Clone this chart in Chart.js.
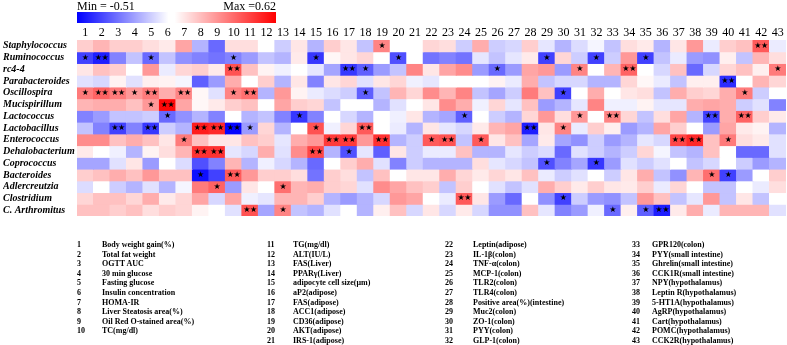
<!DOCTYPE html>
<html>
<head>
<meta charset="utf-8">
<script src="https://cdn.jsdelivr.net/npm/chart.js@4"></script>
<style>
  body { margin: 0; background: #fff; }
  #wrap { position: relative; width: 787px; height: 345px; overflow: hidden; font-family: "Liberation Serif", serif; color: #000; }
  #chart { position: absolute; left: 0; top: 0; }
  .cb-label { position: absolute; top: 0; font-size: 12px; line-height: 12px; white-space: nowrap; }
  #colorbar { position: absolute; left: 77px; top: 12px; width: 199px; height: 11px;
    background: linear-gradient(to right, #0000ff 0%, #ffffff 46%, #ffffff 49%, #ff0000 100%); }
  .legcol { position: absolute; top: 240px; font-size: 8px; font-weight: bold; line-height: 9.6px; white-space: nowrap; }
  .legcol div { position: relative; height: 9.6px; }
  .legcol .n { position: absolute; left: 0; }
</style>
</head>
<body>
<div id="wrap">
  <canvas id="chart" width="787" height="345"></canvas>
  <div class="cb-label" style="left:77px">Min = -0.51</div>
  <div class="cb-label" style="right:511px">Max =0.62</div>
  <div id="colorbar"></div>
  <div id="legend"></div>
</div>
<script>
const bacteria = ["Staphylococcus", "Ruminococcus", "rc4-4", "Parabacteroides", "Oscillospira",
  "Mucispirillum", "Lactococcus", "Lactobacillus", "Enterococcus", "Dehalobacterium",
  "Coprococcus", "Bacteroides", "Adlercreutzia", "Clostridium", "C. Arthromitus"];

const params = ["Body weight gain(%)", "Total fat weight", "OGTT AUC", "30 min glucose", "Fasting glucose",
  "Insulin concentration", "HOMA-IR", "Liver Steatosis area(%)", "Oil Red O-stained area(%)", "TC(mg/dl)",
  "TG(mg/dl)", "ALT(IU/L)", "FAS(Liver)", "PPARγ(Liver)", "adipocyte cell size(μm)", "aP2(adipose)",
  "FAS(adipose)", "ACC1(adipose)", "CD36(adipose)", "AKT(adipose)", "IRS-1(adipose)",
  "Leptin(adipose)", "IL-1β(colon)", "TNF-α(colon)", "MCP-1(colon)", "TLR2(colon)", "TLR4(colon)",
  "Positive area(%)(intestine)", "Muc2(colon)", "ZO-1(colon)", "PYY(colon)", "GLP-1(colon)",
  "GPR120(colon)", "PYY(small intestine)", "Ghrelin(small intestine)", "CCK1R(small intestine)",
  "NPY(hypothalamus)", "Leptin R(hypothalamus)", "5-HT1A(hypothalamus)", "AgRP(hypothalamus)",
  "Cart(hypothalamus)", "POMC(hypothalamus)", "CCK2R(hypothalamus)"];

const colLabels = params.map((_, i) => String(i + 1));
const legendCols = [[1, 10], [11, 21], [22, 32], [33, 43]];

const minVal = -0.51;
const maxVal = 0.62;

// correlation values, one row per bacterium, columns 1..43
const corr = [
  [0.12,0.18,0.12,0.12,0.08,0.05,0.22,-0.15,-0.3,0.08,0.08,0, -0.1,0.06,-0.15,0.12,0.06,-0.12,0.3,0,0,0.1,0.08,-0.1,0.2,-0.1,-0.08, 0.12,-0.05,-0.15,-0.07,-0.02,-0.12,0.08,0.05,-0.15,0.06,0.25,-0.04,0.12,0.15,0.4,-0.04],
  [-0.38,-0.45,-0.25,-0.12,-0.3,-0.12,-0.22,-0.25,-0.28,-0.25,-0.2,-0.12, -0.15,0.05,-0.4,0.02,0.06,0.1,0,-0.35,0,-0.28,-0.25,-0.28,-0.05,-0.12,-0.05, 0.05,-0.38,0.1,-0.1,-0.38,-0.1,0.25,-0.38,-0.12,-0.04,-0.2,-0.22,0.04,-0.12,0.18,0.08],
  [0.06,0.15,0.12,0,0.25,-0.04,0.1,0.12,0.05,0.42,0.15,0.03, -0.03,0,-0.05,-0.18,-0.4,-0.32,-0.2,-0.12,0.3,0.06,0.22,0.28,-0.2,-0.3,-0.2, 0.22,0.25,-0.2,0.3,0,0.18,0.38,0,-0.08,0.15,-0.3,-0.08,0.1,0.15,0.04,0.32],
  [-0.06,-0.08,0.03,-0.06,0.04,0.03,-0.02,-0.32,-0.2,0.2,0,0.12, -0.15,0.06,-0.25,0.06,0.1,-0.06,0.06,0.1,-0.03,-0.05,0,0,0,0.03,-0.04, 0.2,-0.12,-0.08,-0.08,-0.15,-0.15,0.1,0.02,-0.04,-0.12,0.04,0.04,-0.42,0,0.18,0.1],
  [0.32,0.38,0.32,0.25,0.32,0.2,0.3,0.02,-0.06,0.3,0.35,-0.15, 0.25,0.03,-0.04,-0.07,-0.1,-0.32,-0.12,0.18,0.1,0.28,0.18,0.3,-0.12,-0.18,-0.1, 0.32,0.15,-0.38,0,0.2,0,0.06,0.08,-0.12,0.2,0.12,0.1,0.2,0.32,-0.1,0],
  [0.18,0.2,0.2,0.15,0.25,0.6,0.22,0.02,0.05,0.12,0.15,0, 0.22,0.12,0.1,-0.12,0,0,-0.15,-0.06,0,0.06,0.28,0.2,-0.03,0.1,-0.05, 0.15,-0.2,-0.15,-0.05,0.3,-0.03,-0.03,0.03,-0.05,-0.05,0.2,0.22,0.2,-0.1,-0.06,-0.25],
  [-0.25,-0.2,-0.12,-0.12,-0.1,-0.3,-0.22,-0.15,-0.25,0,-0.15,-0.12, -0.25,-0.4,-0.25,0,-0.08,-0.15,0,-0.03,0.06,-0.15,-0.18,-0.32,0,-0.1,-0.15, 0.1,0.25,0.08,0.25,0,0.3,0.1,-0.12,0.08,0.22,-0.15,-0.38,0.2,0.38,0.12,0.05],
  [-0.12,-0.25,-0.38,-0.25,-0.4,-0.1,-0.15,0.55,0.52,-0.5,-0.2,0.1, -0.15,0,0.42,-0.03,0.1,0.4,0,-0.04,-0.15,0.06,-0.05,-0.08,0.05,0.18,0.22, -0.45,0.06,0.3,-0.04,0.12,0.04,-0.2,-0.15,0.22,0.12,0,-0.2,0.22,0.05,0.03,-0.15],
  [0.28,0.28,0.15,0.2,0.15,0.06,0.32,0.15,0.06,0.06,0.15,0.12, -0.05,0.2,0.25,0.48,0.48,0.25,0.5,-0.15,-0.1,0.4,0.42,-0.12,0.4,0.06,0.15, -0.18,0.05,-0.18,-0.22,-0.1,-0.2,-0.15,-0.05,-0.08,0.45,0.52,0.15,0.32,0.08,0.05,-0.06],
  [0.05,0,-0.03,-0.15,0.03,0.08,0.18,0.5,0.5,-0.05,-0.08,0.2, -0.06,0.28,0.45,-0.15,-0.35,-0.05,-0.32,0.06,-0.1,-0.04,-0.04,0.15,-0.15,-0.15,-0.05, -0.1,-0.07,-0.3,-0.06,-0.1,-0.15,-0.1,0.1,-0.02,-0.12,-0.15,0.15,0,-0.3,-0.3,-0.06],
  [-0.18,-0.18,-0.06,0.06,-0.2,0,-0.07,-0.35,-0.25,0.18,-0.15,-0.03, -0.08,-0.15,-0.3,0,0.12,0.2,-0.06,-0.25,-0.1,-0.15,-0.15,-0.15,0.08,-0.05,-0.08, -0.12,-0.35,-0.25,-0.18,-0.4,-0.2,-0.06,-0.1,-0.06,0,-0.12,-0.08,0,-0.1,-0.2,-0.15],
  [0.12,0.15,0.2,0.15,0.25,0.15,0.15,-0.48,-0.38,0.4,0.25,0.12, 0.12,0.08,-0.28,0.12,0.08,-0.12,0.15,0,0.06,0.06,0.2,0.1,0.05,0.1,0.06, 0.15,-0.04,-0.1,-0.06,0,-0.1,0.06,0.2,-0.12,-0.22,0.18,0.35,-0.38,-0.2,0,0.12],
  [-0.07,0,-0.1,-0.15,-0.06,-0.15,-0.02,0.32,0.38,-0.2,0.06,0, 0.35,0.18,0.2,0.12,0.1,-0.06,0.28,0.22,0.15,0.12,-0.12,0.12,0,-0.06,-0.12, -0.06,0.2,0.12,0.05,0.12,0.06,0.05,0.12,-0.04,0.1,0,-0.12,-0.12,0,-0.04,0.08],
  [0.1,0.15,0.15,0.1,0.2,0.05,0.1,0.22,-0.08,0.22,-0.03,-0.05, 0.18,0.18,0.12,-0.15,-0.2,-0.15,-0.08,0.25,0.22,0,-0.04,0.4,0.06,-0.2,-0.3, 0,-0.22,-0.38,-0.1,-0.2,-0.22,-0.12,0.25,0.15,-0.12,-0.05,0.25,-0.12,0.06,-0.12,0],
  [0.15,0.15,0.12,0.15,0.08,0.12,0.1,0.03,0,-0.06,0.42,-0.18, 0.3,-0.12,-0.15,-0.06,0,-0.15,0.04,0.15,-0.08,0.06,-0.08,0.05,-0.08,-0.22,-0.22, 0.15,-0.05,-0.25,-0.2,-0.03,-0.3,0.04,-0.32,-0.45,0.05,0.2,-0.04,0.18,0.18,0.18,-0.06]
];

// significance marks: [row (1-based), column (1-based), mark]
const signif = [
  [1,19,"*"],[1,42,"**"],
  [2,1,"*"],[2,2,"**"],[2,5,"*"],[2,10,"*"],[2,15,"*"],[2,20,"*"],[2,29,"*"],[2,32,"*"],[2,35,"*"],
  [3,10,"**"],[3,17,"**"],[3,18,"*"],[3,26,"*"],[3,31,"*"],[3,34,"**"],[3,43,"*"],
  [4,40,"**"],
  [5,1,"*"],[5,2,"**"],[5,3,"**"],[5,4,"*"],[5,5,"**"],[5,7,"**"],[5,10,"*"],[5,11,"**"],[5,18,"*"],[5,30,"*"],[5,41,"*"],
  [6,5,"*"],[6,6,"**"],
  [7,6,"*"],[7,14,"*"],[7,24,"*"],[7,31,"*"],[7,33,"**"],[7,39,"**"],[7,41,"**"],
  [8,3,"**"],[8,5,"**"],[8,8,"**"],[8,9,"**"],[8,10,"**"],[8,11,"*"],[8,15,"*"],[8,18,"**"],[8,28,"**"],[8,30,"*"],
  [9,7,"*"],[9,16,"**"],[9,17,"**"],[9,19,"**"],[9,22,"*"],[9,23,"**"],[9,25,"*"],[9,37,"**"],[9,38,"**"],[9,40,"*"],
  [10,8,"**"],[10,9,"**"],[10,15,"**"],[10,17,"*"],
  [11,29,"*"],[11,32,"*"],
  [12,8,"*"],[12,10,"**"],[12,39,"*"],[12,40,"*"],
  [13,9,"*"],[13,13,"*"],
  [14,24,"**"],[14,30,"*"],
  [15,11,"**"],[15,13,"*"],[15,33,"*"],[15,35,"*"],[15,36,"**"]
];

function heatColor(v) {
  if (v >= 0) {
    const t = Math.min(v / maxVal, 1);
    const c = Math.round(255 * (1 - t));
    return `rgb(255,${c},${c})`;
  }
  const t = Math.min(v / minVal, 1);
  const c = Math.round(255 * (1 - t));
  return `rgb(${c},${c},255)`;
}

// legend of parameter numbers
const legend = document.getElementById("legend");
const colPos = [[77, 102], [267, 293], [445, 473], [632, 652]];
legendCols.forEach(([a, b], k) => {
  const col = document.createElement("div");
  col.className = "legcol";
  col.style.left = colPos[k][0] + "px";
  for (let i = a; i <= b; i++) {
    const line = document.createElement("div");
    line.innerHTML = `<span class="n">${i}</span><span style="position:absolute;left:${colPos[k][1] - colPos[k][0]}px">${params[i - 1]}</span>`;
    col.appendChild(line);
  }
  legend.appendChild(col);
});

const starPlugin = {
  id: "stars",
  afterDatasetsDraw(chart) {
    const ctx = chart.ctx;
    const xs = chart.scales.x, ys = chart.scales.y;
    ctx.save();
    ctx.fillStyle = "#000";
    ctx.font = "8px 'DejaVu Sans'";
    ctx.textAlign = "center";
    ctx.textBaseline = "middle";
    signif.forEach(([r, c, m]) => {
      const x = xs.getPixelForValue(c - 1);
      const y = ys.getPixelForValue(r - 1);
      if (m === "**") {
        ctx.fillText("★", x - 3.4, y);
        ctx.fillText("★", x + 3.4, y);
      } else {
        ctx.fillText("★", x, y);
      }
    });
    ctx.restore();
  }
};

const datasets = corr.map((row, r) => ({
  label: bacteria[r],
  data: row.map(() => [r - 0.5, r + 0.5]),
  backgroundColor: row.map(heatColor),
  borderWidth: 0,
  inflateAmount: 0.5,
  barPercentage: 1,
  categoryPercentage: 1,
  grouped: false
}));

new Chart(document.getElementById("chart"), {
  type: "bar",
  data: { labels: colLabels, datasets: datasets },
  options: {
    responsive: false,
    animation: false,
    layout: { padding: { left: 3, right: 1, top: 0, bottom: 129 } },
    plugins: { legend: { display: false }, tooltip: { enabled: false } },
    scales: {
      x: {
        type: "category",
        position: "top",
        grid: { display: false, drawTicks: false },
        border: { display: false },
        ticks: { color: "#000", padding: 0, maxRotation: 0, autoSkip: false,
          font: { family: "'Liberation Serif', serif", size: 12 } },
        afterFit: s => { s.height = 40; }
      },
      y: {
        type: "linear",
        min: -0.5,
        max: 14.5,
        reverse: true,
        grid: { display: false, drawTicks: false },
        border: { display: false },
        afterBuildTicks: s => { s.ticks = bacteria.map((_, i) => ({ value: i })); },
        ticks: { color: "#000", padding: 0, crossAlign: "far", autoSkip: false,
          callback: v => bacteria[v] ?? "",
          font: { family: "'Liberation Serif', serif", size: 10, style: "italic", weight: "bold" } },
        afterFit: s => { s.width = 74; }
      }
    }
  },
  plugins: [starPlugin]
});
</script>
</body>
</html>
